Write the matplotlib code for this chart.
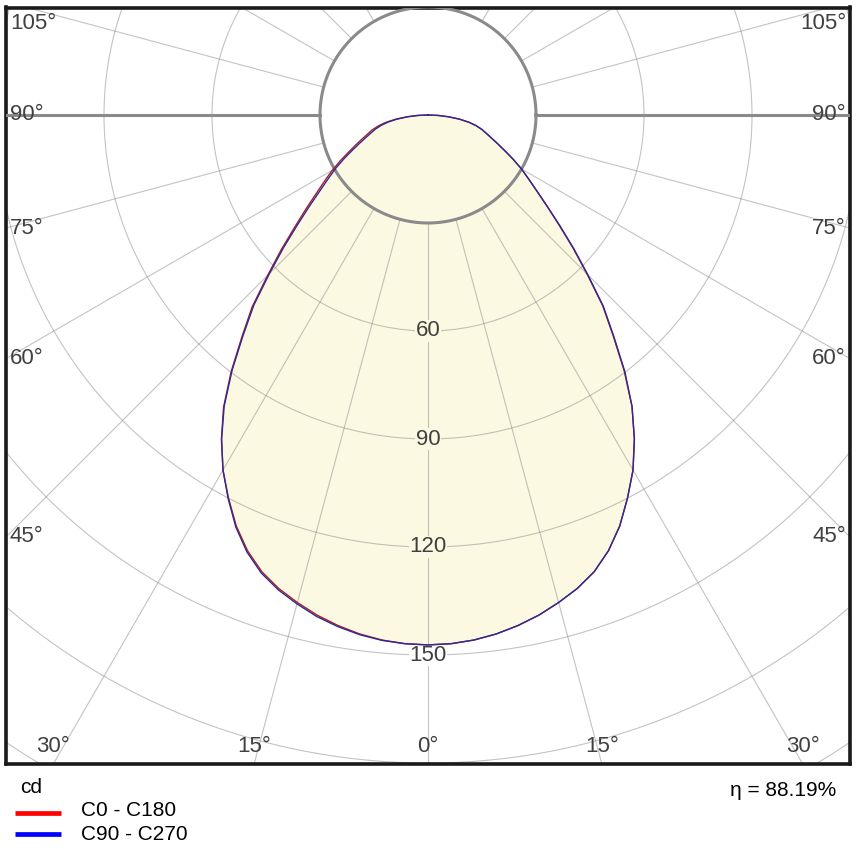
import numpy as np
import matplotlib
matplotlib.use("Agg")
import matplotlib.pyplot as plt
from matplotlib.lines import Line2D

plt.rcParams['font.family'] = ['Liberation Sans', 'DejaVu Sans']

# ---------------- data (cd) ----------------
gamma = [0, 2.5, 5, 7.5, 10, 12.5, 15, 17.5, 20, 22.5, 25, 27.5, 30, 32.5, 35, 37.5, 40, 42.5, 45,
         47.5, 50, 52.5, 55, 57.5, 60, 62.5, 65, 67.5, 70, 72.5, 75, 77.5, 80, 82.5, 85, 87.5, 90]
c0   = [147.2, 147.0, 146.4, 145.4, 144.0, 142.3, 140.2, 137.9, 135.0, 131.0, 126.0, 120.0, 113.9, 106.7,
        98.8, 89.5, 80.0, 71.8, 62.5, 54.6, 47.5, 41.8, 37.0, 33.2, 30.0, 26.7, 23.6, 21.0, 18.8, 17.0,
        15.5, 13.7, 11.5, 8.8, 5.8, 2.9, 0.0]
c180 = [147.2, 147.0, 146.4, 145.4, 144.0, 142.3, 140.2, 137.9, 135.0, 131.0, 126.0, 120.0, 113.9, 106.8,
        99.0, 89.8, 80.4, 72.3, 63.0, 55.2, 48.2, 42.6, 37.8, 34.0, 30.7, 27.4, 24.3, 21.7, 19.5, 17.6,
        16.1, 14.2, 12.0, 9.2, 6.0, 3.0, 0.0]
c90  = [147.2, 147.0, 146.4, 145.4, 144.0, 142.3, 140.2, 137.9, 135.0, 131.0, 126.0, 120.0, 113.9, 106.7,
        98.8, 89.8, 80.3, 72.1, 62.8, 54.9, 47.8, 41.8, 37.0, 33.2, 30.0, 26.7, 23.6, 21.0, 18.8, 17.0,
        15.5, 13.7, 11.5, 8.8, 5.8, 2.9, 0.0]
c270 = [147.2, 147.0, 146.5, 145.6, 144.3, 142.7, 140.6, 138.3, 135.4, 131.4, 126.3, 120.2, 113.9, 106.7,
        98.7, 89.4, 79.9, 71.6, 62.3, 54.3, 47.2, 41.4, 36.6, 32.8, 29.6, 26.3, 23.2, 20.6, 18.4, 16.6,
        15.1, 13.3, 11.2, 8.6, 5.6, 2.8, 0.0]

ring_values = [30, 60, 90, 120, 150, 180, 210]
ring_labels = [60, 90, 120, 150]
radial_angles = [0, 15, 30, 45, 60, 75, 105, 120, 135, 150, 165, 180]
angle_labels = [0, 15, 30, 45, 60, 75, 90, 105]
legend_names = ["C0 - C180", "C90 - C270"]
unit_label = "cd"
eta_text = "η = 88.19%"

# ---------------- layout ----------------
W, H = 858, 849
PX = 3.6                      # pixels per cd
CX, CY = 428, 115             # centre of the diagram (px)
L, R, T, B = 6, 850, 7.5, 764  # frame (px)

fig = plt.figure(figsize=(W / 100, H / 100), dpi=100)
ax = fig.add_axes([L / W, 1 - B / H, (R - L) / W, (B - T) / H])
xmin, xmax = (L - CX) / PX, (R - CX) / PX
ymin, ymax = -(B - CY) / PX, (CY - T) / PX
ax.set_xlim(xmin, xmax)
ax.set_ylim(ymin, ymax)
ax.set_aspect('auto')
ax.set_xticks([])
ax.set_yticks([])
for s in ax.spines.values():
    s.set_linewidth(2.6)
    s.set_color('#1a1a1a')

fill_col = '#fcf9e2'
grid_kw = dict(color='#888888', alpha=0.5, lw=0.8, zorder=2)
thick_kw = dict(color='#8a8a8a', lw=2.2, zorder=3)
lab_fs = 16
lab_col = '#404040'


def half_xy(vals, side):
    g = np.radians(np.array(gamma, dtype=float))
    v = np.array(vals, dtype=float)
    return side * v * np.sin(g), -v * np.cos(g)


def curve(left, right):
    xl, yl = half_xy(left, -1)
    xr, yr = half_xy(right, 1)
    x = np.concatenate([xl[::-1], xr[1:]])
    y = np.concatenate([yl[::-1], yr[1:]])
    return x, y


# fill
fx, fy = curve(c180, c0)
ax.fill(fx, fy, color=fill_col, lw=0, zorder=1)

# rings
th = np.linspace(0, 2 * np.pi, 1441)
for r in ring_values:
    if r == ring_values[0]:
        ax.plot(r * np.cos(th), r * np.sin(th), **thick_kw)
    else:
        ax.plot(r * np.cos(th), r * np.sin(th), **grid_kw)

# radial lines
r0, r1 = ring_values[0], 400
for a in radial_angles:
    ar = np.radians(a)
    for side in ([1] if a in (0, 180) else [1, -1]):
        ax.plot([side * r0 * np.sin(ar), side * r1 * np.sin(ar)],
                [-r0 * np.cos(ar), -r1 * np.cos(ar)], **grid_kw)
# 90 degree line (thick)
for side in (1, -1):
    ax.plot([side * r0, side * r1], [0, 0], **thick_kw)

# curves
rx, ry = curve(c180, c0)
bx, by = curve(c270, c90)
ax.plot(rx, ry, color='#b01c1c', lw=1.0, zorder=4, solid_joinstyle='round')
ax.plot(bx, by, color='#2a2a9a', lw=1.0, zorder=4.1, solid_joinstyle='round')

# ring labels
for v in ring_labels:
    fc = fill_col if v < c0[0] else 'white'
    ax.text(0, -v, str(v), ha='center', va='center', fontsize=lab_fs, color=lab_col,
            zorder=3.5, bbox=dict(fc=fc, ec='none', pad=0.3))

# angle labels on the frame
off = 4 / PX
for a in angle_labels:
    ar = np.radians(a)
    s, c = np.sin(ar), np.cos(ar)
    t_side = (-xmin) / s if s > 1e-9 else np.inf
    t_bot = (-ymin) / c if c > 1e-9 else np.inf
    if t_side < t_bot:
        y = -t_side * c
        y = min(max(y, ymin + 17 / PX), ymax - 16 / PX)
        ax.text(xmin + off, y, f"{a}°", ha='left', va='center', fontsize=lab_fs, color=lab_col, zorder=6)
        ax.text(xmax - off, y, f"{a}°", ha='right', va='center', fontsize=lab_fs, color=lab_col, zorder=6)
    else:
        x = t_bot * s
        y = ymin + 17 / PX
        xs = [0] if a == 0 else [-x, x]
        for xx in xs:
            ax.text(xx, y, f"{a}°", ha='center', va='center', fontsize=lab_fs, color=lab_col, zorder=6)

# legend / footer
def fx_(px):
    return px / W


def fy_(py):
    return 1 - py / H


fig.text(fx_(20), fy_(793), unit_label, fontsize=15, color='black', va='baseline', ha='left')
fig.text(fx_(81), fy_(816.5), legend_names[0], fontsize=15, color='black', va='baseline', ha='left')
fig.text(fx_(81), fy_(840), legend_names[1], fontsize=15, color='black', va='baseline', ha='left')
fig.add_artist(Line2D([fx_(15), fx_(61)], [fy_(813.3), fy_(813.3)], color='#ff0000', lw=3.4,
                      solid_capstyle='butt', transform=fig.transFigure))
fig.add_artist(Line2D([fx_(15), fx_(61)], [fy_(834.2), fy_(834.2)], color='#0000ff', lw=3.4,
                      solid_capstyle='butt', transform=fig.transFigure))
fig.text(fx_(836), fy_(796), eta_text, fontsize=15, color='black', va='baseline', ha='right')

fig.savefig("out.png", dpi=100, facecolor='white')
